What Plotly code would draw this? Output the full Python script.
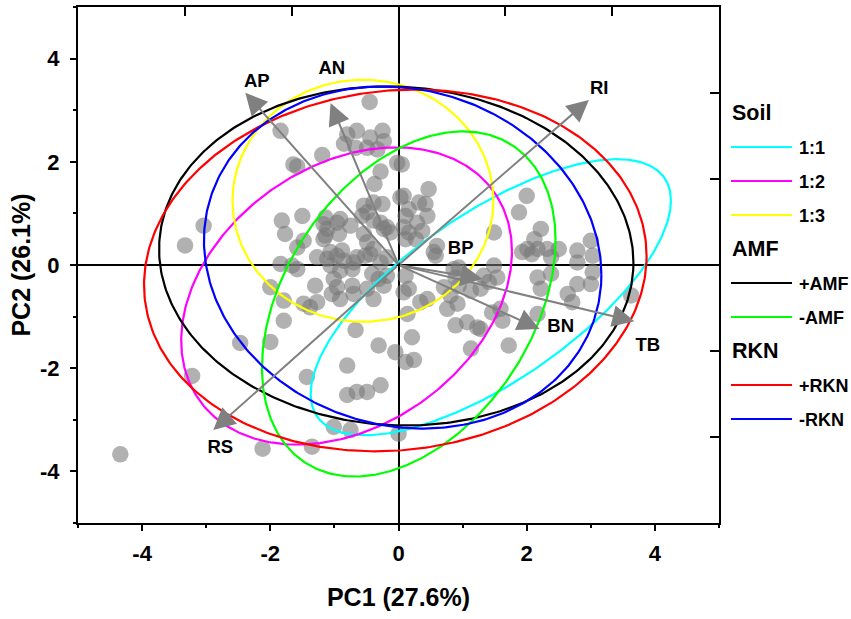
import numpy as np
import plotly.graph_objects as go

# ---------------- data ----------------
# sample scores (PC1, PC2)
pc1 = [-0.45, -1.84, -0.80, -0.65, -0.44, -0.25, -0.23, -0.85, -0.67, -0.49, -0.33, -1.19, -1.64, -1.58,
       -0.02, 0.05, -0.28, -0.375, 0.03, -0.54, -0.39, -0.25, -1.82, -1.50, -3.04, -3.33, -1.77, -1.17,
       -0.96, -0.75, -0.57, -0.39, -0.23, -1.14, -0.93, -0.54, -1.58, -1.48, -1.27, -1.06, -0.88, -0.65,
       -0.44, -1.84, -1.14, -0.91, -1.11, -1.17, -0.49, -0.28, -0.18, -0.125, -0.49, -0.39, -0.52, -0.28,
       -0.18, -1.11, -0.96, -0.85, -0.70, -1.06, -0.72, -0.91, -1.58, -1.66,
       0.47, 0.08, 0.42, 0.11, 0.29, 0.37, 0.16, 0.08, 0.60, 0.58, 0.16, 0.32, 0.45, 0.27, 0.11, 0.55,
       2.00, 1.88, 1.49, 2.22, 2.12, 2.17, 2.32, 2.01, 2.38, 2.50, 2.79, 3.00, 3.03, 2.79, 1.93, 2.08,
       0.94, 1.49, 1.33, 1.41, 1.54, 0.86, 0.89, 0.94, 1.13, 1.28, 2.17, 2.22, 2.38, 2.64, 2.71, 2.79,
       3.00, 3.03, 3.63, 0.16, 0.45, 0.34, 0.71, 0.81, 0.92, 0.76, 1.07, 1.23, 0.89, 1.59, 1.46, 1.62,
       1.72, 2.17, 1.13, 0.08, 0.11, 0.14, 0.21, -0.05, 0.11, 0.24, 0.00, 1.28,
       -1.30, -1.01, -0.96, -1.04, -0.72, -0.70, -0.91, -1.27, -1.48, -0.41, -0.31, -0.18, -0.49, -0.23,
       -2.00, -1.79, -1.38, -0.39, -1.79, -2.47, -2.00, -0.67, -0.31, -0.80, -1.43, -0.28, -0.49, -0.65,
       -0.80, -3.22, -1.01, -0.75, -4.34, -2.12, -1.35]
pc2 = [3.16, 2.60, 2.53, 2.60, 2.47, 2.60, 2.40, 2.35, 2.27, 2.27, 2.24, 2.13, 1.95, 1.91,
       1.98, 1.95, 1.81, 1.57, 1.31, 1.15, 1.21, 1.18, 0.86, 0.95, 0.76, 0.38, 0.60, 0.79,
       0.82, 0.76, 0.95, 0.86, 0.70, 0.57, 0.60, 0.60, 0.34, 0.47, 0.15, 0.25, 0.28, 0.15,
       0.21, 0.02, 0.92, 0.89, 0.70, 0.50, 1.02, 0.82, 0.73, 0.63, 0.44, 0.31, 0.18, 0.05,
       0.15, 0.12, 0.18, 0.08, 0.05, -0.01, -0.08, -0.11, -0.08, -0.01,
       1.47, 1.34, 1.18, 0.95, 0.82, 0.66, 0.63, 0.73, 0.37, 0.18, 1.08, 1.21, 0.95, 0.50, 0.50, 0.25,
       1.34, 1.02, 0.63, 0.70, 0.50, 0.31, 0.31, 0.31, 0.15, 0.31, 0.28, 0.47, 0.18, 0.05, 0.25, 0.21,
       -0.05, -0.01, -0.21, -0.33, -0.24, -0.08, -0.24, -0.40, -0.50, -0.46, -0.24, -0.46, -0.17, -0.56, -0.72, -0.37,
       -0.37, -0.14, -0.59, -0.46, -0.66, -0.72, -0.43, -0.59, -0.75, -0.85, -1.11, -1.21, -1.17, -0.85, -0.92, -1.08,
       -1.56, -0.95, -1.62, -0.53, -0.21, -0.95, -1.40, -1.69, -1.88, -1.84, -3.27, -1.24,
       -0.40, -0.27, -0.43, -0.56, -0.40, -0.56, -0.66, -0.72, -0.75, -0.17, -0.27, -0.21, -0.46, -0.40,
       -0.43, -0.69, -0.82, -0.66, -1.08, -1.51, -1.49, -1.26, -1.56, -1.95, -2.17, -2.33, -2.46, -2.46,
       -2.52, -2.15, -3.14, -3.20, -3.67, -3.56, -3.52]

# variable loadings (read on the top / right axis scale)
var_names = ["AP", "AN", "RI", "BP", "BN", "TB", "RS"]
load_x = [-0.717, -0.318, 0.891, 0.393, 0.660, 1.104, -0.867]
load_y = [1.002, 0.942, 0.960, -0.081, -0.372, -0.327, -0.960]
label_x = [-0.663, -0.312, 0.939, 0.291, 0.759, 1.167, -0.834]
label_y = [1.059, 1.137, 1.020, 0.093, -0.360, -0.471, -1.068]

# confidence ellipses: centre, half-width, half-height, correlation
groups = ["1:1", "1:2", "1:3", "+AMF", "-AMF", "+RKN", "-RKN"]
group_factor = ["Soil", "Soil", "Soil", "AMF", "AMF", "RKN", "RKN"]
ell_cx = [1.44, -0.81, -0.555, -0.035, 0.16, -0.05, 0.065]
ell_cy = [-0.625, -0.60, 1.245, 0.175, -0.755, -0.105, 0.145]
ell_w = [2.81, 2.58, 2.035, 3.70, 2.29, 3.92, 3.10]
ell_h = [2.675, 2.88, 2.345, 3.285, 3.345, 3.505, 3.315]
ell_r = [0.70, 0.30, 0.0, -0.04, 0.37, 0.08, -0.10]
colors = ["#00FFFF", "#FF00FF", "#FFFF00", "#000000", "#00FF00", "#FF0000", "#0000FF"]

x_ticks = [-4, -2, 0, 2, 4]
x_tick_text = ["-4", "-2", "0", "2", "4"]
y_ticks = [-4, -2, 0, 2, 4]
y_tick_text = ["-4", "-2", "0", "2", "4"]

FONT = "Liberation Sans, Arial, sans-serif"

# ---------------- figure ----------------
fig = go.Figure()

fig.add_trace(go.Scatter(
    x=pc1, y=pc2, mode="markers",
    marker=dict(size=16.5, color="rgba(120,120,120,0.58)", line=dict(width=0)),
    hoverinfo="skip", showlegend=False))

t = np.linspace(0, 2 * np.pi, 400)
for i, g in enumerate(groups):
    r = ell_r[i]
    ex = ell_cx[i] + ell_w[i] * np.cos(t)
    ey = ell_cy[i] + ell_h[i] * (r * np.cos(t) + np.sqrt(1 - r * r) * np.sin(t))
    fig.add_trace(go.Scatter(x=ex, y=ey, mode="lines", name=g,
                             line=dict(color=colors[i], width=2.2),
                             hoverinfo="skip", showlegend=False))

# variable labels on the loading axes
fig.add_trace(go.Scatter(
    x=label_x, y=label_y, xaxis="x2", yaxis="y2", mode="text", text=var_names,
    textposition="middle center",
    textfont=dict(family=FONT, size=18.5, color="black", weight="bold"),
    hoverinfo="skip", showlegend=False))

annotations = []
for i, v in enumerate(var_names):
    annotations.append(dict(
        x=load_x[i], y=load_y[i], xref="x2", yref="y2",
        ax=0, ay=0, axref="x2", ayref="y2",
        text="", showarrow=True, arrowhead=2, arrowsize=2.2, arrowwidth=2,
        arrowcolor="rgb(128,128,128)", standoff=0, startstandoff=0))

# ---- legend drawn at the right of the frame ----
L, T, B = 78, 7, 523
W, H = 851 - 78 - 132, 523 - 7


def pxx(p):
    return (p - L) / W


def pxy(p):
    return (B - p) / H


shapes = []
row = 0
row_y0, row_step = 113, 34
last = None
for i, g in enumerate(groups):
    if group_factor[i] != last:
        y = row_y0 + row * row_step
        annotations.append(dict(x=pxx(730), y=pxy(y), xref="paper", yref="paper",
                                text=group_factor[i], showarrow=False, xanchor="left",
                                yanchor="middle",
                                font=dict(family=FONT, size=21.5, color="black", weight="bold")))
        row += 1
        last = group_factor[i]
    y = row_y0 + row * row_step
    shapes.append(dict(type="line", xref="paper", yref="paper",
                       x0=pxx(731), x1=pxx(792), y0=pxy(y), y1=pxy(y),
                       line=dict(color=colors[i], width=2.2)))
    annotations.append(dict(x=pxx(797), y=pxy(y + 1), xref="paper", yref="paper",
                            text=g, showarrow=False, xanchor="left", yanchor="middle",
                            font=dict(family=FONT, size=18, color="black", weight="bold")))
    row += 1

axis_common = dict(showgrid=False, linecolor="black", linewidth=2,
                   tickcolor="black", tickwidth=2)

fig.update_layout(
    width=851, height=619,
    margin=dict(l=78, r=132, t=7, b=96, autoexpand=False),
    plot_bgcolor="white", paper_bgcolor="white",
    showlegend=False,
    font=dict(family=FONT, color="black"),
    xaxis=dict(range=[-5, 5], tickvals=x_ticks, ticktext=x_tick_text, ticks="outside", ticklen=6,
               showline=True, mirror=True, ticklabelstandoff=4,
               minor=dict(tickvals=[-5, -3, -1, 1, 3, 5], ticks="outside", ticklen=3,
                          tickwidth=2, tickcolor="black"),
               zeroline=True, zerolinecolor="black", zerolinewidth=2,
               tickfont=dict(family=FONT, size=22, weight="bold"),
               title=dict(text="PC1 (27.6%)", standoff=23,
                          font=dict(family=FONT, size=25, weight="bold")),
               **axis_common),
    yaxis=dict(range=[-5, 5], tickvals=y_ticks, ticktext=y_tick_text, ticks="outside", ticklen=6,
               showline=True, mirror=True, ticklabelstandoff=6,
               minor=dict(tickvals=[-5, -3, -1, 1, 3, 5], ticks="outside", ticklen=3,
                          tickwidth=2, tickcolor="black"),
               zeroline=True, zerolinecolor="black", zerolinewidth=2,
               tickfont=dict(family=FONT, size=22, weight="bold"),
               title=dict(text="PC2 (26.1%)", standoff=2,
                          font=dict(family=FONT, size=25, weight="bold")),
               **axis_common),
    xaxis2=dict(overlaying="x", side="top", anchor="y", range=[-1.5, 1.5],
                tickvals=[-1.5, -1, -0.5, 0, 0.5, 1, 1.5], ticks="inside", ticklen=9,
                showticklabels=False, showline=False, zeroline=False, showgrid=False,
                tickcolor="black", tickwidth=2),
    yaxis2=dict(overlaying="y", side="right", anchor="x", range=[-1.5, 1.5],
                tickvals=[-1.5, -1, -0.5, 0, 0.5, 1, 1.5], ticks="inside", ticklen=9,
                showticklabels=False, showline=False, zeroline=False, showgrid=False,
                tickcolor="black", tickwidth=2),
    annotations=annotations,
    shapes=shapes,
)

fig.write_html("out.html", config={"displayModeBar": False},
               post_script="document.body.style.margin='0px';")
